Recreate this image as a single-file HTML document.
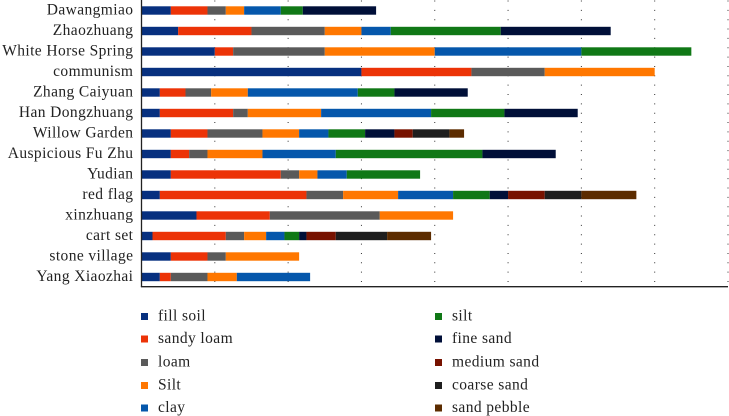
<!DOCTYPE html>
<html lang="en">
<head>
<meta charset="utf-8">
<title>Soil layer thickness by site</title>
<style>
html,body{margin:0;padding:0;background:#fff;width:729px;height:416px;overflow:hidden}
svg{display:block}
text{font-family:"Liberation Serif",serif;fill:#222;font-size:15.5px;letter-spacing:.4px}
</style>
</head>
<body>
<svg id="chart" width="729" height="416" viewBox="0 0 729 416" xmlns="http://www.w3.org/2000/svg"></svg>
<script>
const categories = ["Dawangmiao","Zhaozhuang","White Horse Spring","communism","Zhang Caiyuan","Han Dongzhuang","Willow Garden","Auspicious Fu Zhu","Yudian","red flag","xinzhuang","cart set","stone village","Yang Xiaozhai"];
const seriesNames = ["fill soil","sandy loam","loam","Silt","clay","silt","fine sand","medium sand","coarse sand","sand pebble"];
const seriesColors = ["#07307f","#ec3307","#5a5a5a","#ff7700","#0557ab","#107816","#000f38","#771200","#1e1e1e","#5c2c00"];
const fillSoil   = [8,10,20,60,5,5,8,8,8,5,15,3,8,5];
const sandyLoam  = [10,20,5,30,7,20,10,5,30,40,20,20,10,3];
const loam       = [5,20,25,20,7,4,15,5,5,10,30,5,5,10];
const siltUpper  = [5,10,30,30,10,20,10,15,5,15,20,6,20,8];
const clay       = [10,8,40,0,30,30,8,20,8,15,0,5,0,20];
const siltLower  = [6,30,30,0,10,20,10,40,20,10,0,4,0,0];
const fineSand   = [20,30,0,0,20,20,8,20,0,5,0,2,0,0];
const mediumSand = [0,0,0,0,0,0,5,0,0,10,0,8,0,0];
const coarseSand = [0,0,0,0,0,0,10,0,0,10,0,14,0,0];
const sandPebble = [0,0,0,0,0,0,4,0,0,15,0,12,0,0];
const seriesValues = [fillSoil,sandyLoam,loam,siltUpper,clay,siltLower,fineSand,mediumSand,coarseSand,sandPebble];
const xTicks = [20,40,60,80,100,120,140,160];

const svg = document.getElementById('chart');
const NS = 'http://www.w3.org/2000/svg';
const plotLeft = 141.5, plotRight = 728, plotBottom = 287, xMax = 160;
const firstRow = 10.5, rowStep = 20.5, barH = 8.4;
function xScale(v){ return plotLeft + v * (plotRight - plotLeft) / xMax; }
function yScale(i){ return firstRow + i * rowStep; }
function make(tag, attrs){
  const el = document.createElementNS(NS, tag);
  for (const k in attrs) el.setAttribute(k, attrs[k]);
  svg.appendChild(el);
  return el;
}
function slug(s){ return s.toLowerCase().replace(/\s+/g,'-'); }

xTicks.forEach(function(t){
  const g = make('line',{x1:xScale(t),x2:xScale(t),y1:0.5,y2:plotBottom,stroke:'#333','stroke-width':1,'stroke-dasharray':'1 8.35'});
  
  
});

categories.forEach(function(name, i){
  const label = make('text',{x:133.4,y:yScale(i)+3.9,'text-anchor':'end'});
  label.textContent = name;
  
  
  let cum = 0;
  seriesValues.forEach(function(vals, s){
    const v = vals[i];
    if (!v) return;
    const r = make('rect',{x:xScale(cum),y:yScale(i)-barH/2,width:xScale(cum+v)-xScale(cum),height:barH,fill:seriesColors[s]});
    
    
    cum += v;
  });
});

const yAxis = make('line',{x1:plotLeft,x2:plotLeft,y1:0,y2:plotBottom,stroke:'#222','stroke-width':1.3});


const xAxis = make('line',{x1:plotLeft-0.6,x2:plotRight,y1:plotBottom-0.3,y2:plotBottom-0.3,stroke:'#222','stroke-width':1.3});



const legendY = [316.5,339,362.5,385.5,408];
seriesNames.forEach(function(name, s){
  const col = s < 5 ? 0 : 1;
  const y = legendY[s % 5];
  const sw = make('rect',{x:col?435:141,y:y-3.5,width:7,height:7,fill:seriesColors[s]});
  
  
  const t = make('text',{x:col?452:158,y:y+4});
  t.textContent = name;
  
  
});
</script>
</body>
</html>
